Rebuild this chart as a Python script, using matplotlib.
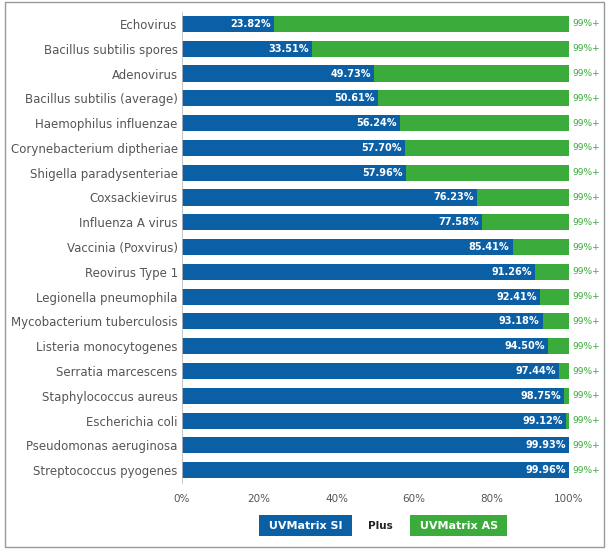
import matplotlib.pyplot as plt
from matplotlib.patches import Rectangle

organisms = [
    'Echovirus', 'Bacillus subtilis spores', 'Adenovirus', 'Bacillus subtilis (average)',
    'Haemophilus influenzae', 'Corynebacterium diptheriae', 'Shigella paradysenteriae',
    'Coxsackievirus', 'Influenza A virus', 'Vaccinia (Poxvirus)', 'Reovirus Type 1',
    'Legionella pneumophila', 'Mycobacterium tuberculosis', 'Listeria monocytogenes',
    'Serratia marcescens', 'Staphylococcus aureus', 'Escherichia coli',
    'Pseudomonas aeruginosa', 'Streptococcus pyogenes',
]
si_values = [23.82, 33.51, 49.73, 50.61, 56.24, 57.70, 57.96, 76.23, 77.58, 85.41,
             91.26, 92.41, 93.18, 94.50, 97.44, 98.75, 99.12, 99.93, 99.96]
total = 100
xticks = [0, 20, 40, 60, 80, 100]

blue = '#0b5fa5'
green = '#3bab3b'

fig = plt.figure(figsize=(6.06, 5.49), dpi=100)
ax = fig.add_axes([0.300, 0.121, 0.639, 0.858])

y = list(range(len(organisms)))
as_values = [total - v for v in si_values]
ax.barh(y, si_values, height=0.65, color=blue)
ax.barh(y, as_values, left=si_values, height=0.65, color=green)

for i, v in enumerate(si_values):
    ax.text(v - 0.8, i, f'{v:.2f}%', ha='right', va='center', color='white',
            fontsize=7, fontweight='bold')
    ax.text(total + 0.8, i, '99%+', ha='left', va='center', color=green, fontsize=6.5)

ax.set_xlim(0, 100)
ax.set_ylim(len(organisms) - 0.5, -0.5)
ax.set_yticks(y)
ax.set_yticklabels(organisms, fontsize=8.5, color='#555555')
ax.set_xticks(xticks)
ax.set_xticklabels([f'{t}%' for t in xticks], fontsize=7.5, color='#555555')
ax.tick_params(length=0, pad=3)
ax.tick_params(axis='x', pad=8)
for s in ['top', 'right', 'bottom']:
    ax.spines[s].set_visible(False)
ax.spines['left'].set_color('#bbbbbb')
ax.spines['left'].set_linewidth(0.6)

# legend boxes
box = dict(boxstyle='square,pad=0.5', ec='none')
fig.text(0.504, 0.042, ' UVMatrix SI ', ha='center', va='center', color='white',
         fontsize=8, fontweight='bold', bbox=dict(box, fc=blue))
fig.text(0.627, 0.042, 'Plus', ha='center', va='center', color='#222222',
         fontsize=7.5, fontweight='bold')
fig.text(0.757, 0.042, ' UVMatrix AS ', ha='center', va='center', color='white',
         fontsize=8, fontweight='bold', bbox=dict(box, fc=green))

fig.patches.append(Rectangle((0.008, 0.004), 0.988, 0.992, transform=fig.transFigure,
                             fill=False, ec='#999999', lw=1))

fig.savefig('out.png', dpi=100)
